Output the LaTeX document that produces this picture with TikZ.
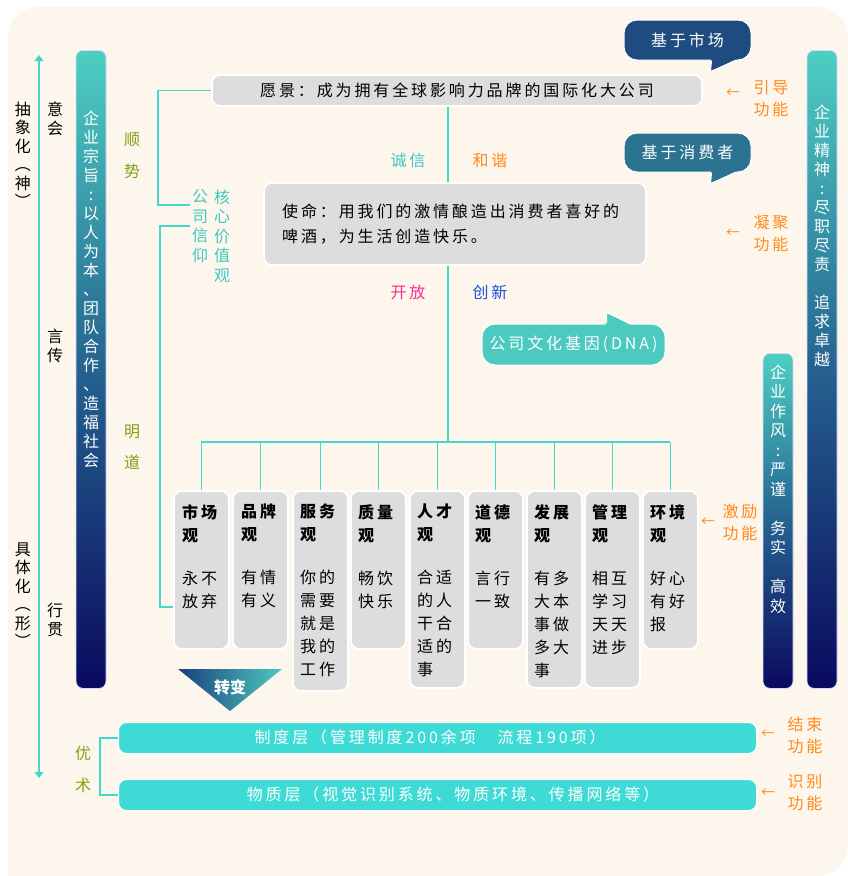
\documentclass[tikz,border=0pt]{standalone}
\usepackage{fontspec}
\setmainfont{Noto Sans CJK SC}
\newfontfamily\hz{Noto Sans CJK SC}[LetterSpace=18]
\usetikzlibrary{calc,arrows.meta}
\definecolor{cream}{HTML}{FDF6ED}
\definecolor{boxgray}{HTML}{DDDDDD}
\definecolor{turq}{HTML}{45D6CE}
\definecolor{turqtxt}{HTML}{40C8C0}
\definecolor{orng}{HTML}{FF8A1E}
\definecolor{olive}{HTML}{7FA214}
\definecolor{mag}{HTML}{FF2A8E}
\definecolor{blu}{HTML}{1D4FE0}
\definecolor{barTop}{HTML}{4DCFC3}
\definecolor{barMid}{HTML}{25628F}
\definecolor{barBot}{HTML}{0A0A5E}
\definecolor{bubA}{HTML}{1E4B80}
\definecolor{bubB}{HTML}{2C7392}
\definecolor{bubC}{HTML}{4CCAC0}
\definecolor{layer}{HTML}{3EDBD6}
\definecolor{triL}{HTML}{1B3F7F}
\tikzset{
  gbox/.style={fill=boxgray, draw=white, line width=1.8pt, rounded corners=8pt, inner sep=0pt},
  valbox/.style={gbox, minimum width=55pt, anchor=north west},
  valtxt/.style={anchor=north west, align=left, inner sep=0pt, text=black, font=\hz\fontsize{16}{23}\selectfont},
  bar/.style={top color=barTop, bottom color=barBot, middle color=barMid, draw=blue!15!white, line width=0.8pt, rounded corners=7pt, minimum width=30pt, inner sep=0pt, anchor=north},
  bartxt/.style={text=white, align=center, inner sep=0pt, font=\fontsize{16}{19}\selectfont},
  vtxt/.style={align=center, inner sep=0pt, font=\fontsize{16}{19}\selectfont},
  htxt/.style={inner sep=0pt, font=\hz\fontsize{16}{22}\selectfont},
  flbl/.style={text=orng, align=left, inner sep=0pt, font=\hz\fontsize{16}{22}\selectfont},
  farrow/.style={text=orng, inner sep=0pt, font=\fontsize{14}{14}\selectfont},
  conn/.style={draw=turq, line width=1.3pt},
  bubble/.style={draw=white, line width=1pt, rounded corners=13pt, text=white, inner sep=0pt, font=\hz\fontsize{16}{20}\selectfont},
  layerbar/.style={fill=layer, draw=white, line width=1pt, rounded corners=8pt, minimum width=638pt, minimum height=31pt, inner sep=0pt},
}
\begin{document}
\begin{tikzpicture}[x=1pt,y=-1pt]
\useasboundingbox (0,0) rectangle (848,876);
\fill[white] (0,0) rectangle (848,876);
\fill[cream] (8,876) [rounded corners=30pt] -- (8,7) -- (848,7) -- (848,876) [sharp corners] -- cycle;

% left axis
\coordinate (axTop) at (39,55);
\coordinate (axBot) at (39,778);
\draw[turq, line width=1.3pt, {Triangle[length=6pt,width=9pt]}-{Triangle[length=6pt,width=9pt]}] (axTop) -- (axBot);
\node[vtxt, font=\fontsize{16}{18.5}\selectfont] (abs) at (23,155) {抽\\象\\化\\︵\\神\\︶};
\node[vtxt, font=\fontsize{16}{18.5}\selectfont] (con) at (23,595) {具\\体\\化\\︵\\形\\︶};
\node[vtxt] (yh) at (55,119) {意\\会};
\node[vtxt] (yc) at (55,346) {言\\传};
\node[vtxt] (xg) at (55,620) {行\\贯};

% bars
\node[bar, minimum height=638pt] (lbar) at (91,50) {};
\node[bartxt] (lbt) at (91,289) {企\\业\\宗\\旨\\:\\以\\人\\为\\本\\、\\团\\队\\合\\作\\、\\造\\福\\社\\会};
\node[bar, minimum height=638pt] (rbar) at (822,50) {};
\node[bartxt] (rbt) at (822,236) {企\\业\\精\\神\\:\\尽\\职\\尽\\责\\　\\追\\求\\卓\\越};
\node[bar, minimum height=335pt] (sbar) at (778,353) {};
\node[bartxt, font=\fontsize{16}{19.5}\selectfont] (sbt) at (778,489) {企\\业\\作\\风\\:\\严\\谨\\　\\务\\实\\　\\高\\效};

% green labels
\node[vtxt, text=olive, font=\fontsize{16}{32}\selectfont] (ss) at (132,156) {顺\\势};
\node[vtxt, text=olive, font=\fontsize{16}{31}\selectfont] (md) at (132,447) {明\\道};
\node[vtxt, text=olive, font=\fontsize{16}{32}\selectfont] (ys) at (83,769) {优\\术};

% core values text
\node[vtxt, text=turqtxt, font=\fontsize{16}{19.5}\selectfont] (gsxy) at (200,226) {公\\司\\信\\仰};
\node[vtxt, text=turqtxt, font=\fontsize{16}{19.5}\selectfont] (hxjz) at (222,236) {核\\心\\价\\值\\观};

% vision and mission
\node[gbox, minimum width=490pt, minimum height=31pt, font=\hz\fontsize{16}{20}\selectfont] (vis) at (457,90.5) {愿景：成为拥有全球影响力品牌的国际化大公司};
\node[gbox, minimum width=382pt, minimum height=82pt] (mis) at (455,224) {};
\node[anchor=north west, align=left, inner sep=0pt, font=\hz\fontsize{16}{25}\selectfont] (mtxt) at (282,204) {使命：用我们的激情酿造出消费者喜好的\\啤酒，为生活创造快乐。};

\coordinate (spine) at (448,0);
\coordinate (bus) at (0,442);
\draw[conn] (vis.south -| spine) -- (mis.north -| spine);

\node[htxt, text=turqtxt] (cx) at (408,160) {诚信};
\node[htxt, text=orng] (hx) at (490,160) {和谐};
\node[htxt, text=mag] (kf) at (408,292) {开放};
\node[htxt, text=blu] (cxn) at (490,292) {创新};

% bubbles
\node[bubble, fill=bubA, minimum width=127pt, minimum height=40pt] (mkt) at (687.5,40) {基于市场};
\fill[bubA] ($(mkt.south)+(24,-3)$) -- ($(mkt.south)+(23,11)$) -- ($(mkt.south)+(52,-3)$) -- cycle;
\draw[white, line width=1pt] ($(mkt.south)+(24,0.3)$) -- ($(mkt.south)+(23,11)$) -- ($(mkt.south)+(48,0.3)$);
\node[bubble, fill=bubB, minimum width=127pt, minimum height=39pt] (csm) at (687.5,152.5) {基于消费者};
\fill[bubB] ($(csm.south)+(24,-3)$) -- ($(csm.south)+(23,11)$) -- ($(csm.south)+(52,-3)$) -- cycle;
\draw[white, line width=1pt] ($(csm.south)+(24,0.3)$) -- ($(csm.south)+(23,11)$) -- ($(csm.south)+(48,0.3)$);
\node[bubble, fill=bubC, minimum width=183pt, minimum height=41pt] (dna) at (573.5,344.5) {公司文化基因(DNA)};
\fill[bubC] ($(dna.north)+(32,3)$) -- ($(dna.north)+(33,-11)$) -- ($(dna.north)+(60,3)$) -- cycle;
\draw[white, line width=1pt] ($(dna.north)+(33,-0.3)$) -- ($(dna.north)+(33,-11)$) -- ($(dna.north)+(56,-0.3)$);

% function labels
\node[farrow] (a1) at (733,93) {←};
\node[flbl] (f1) at (771,99) {引导\\功能};
\node[farrow] (a2) at (733,233) {←};
\node[flbl] (f2) at (771,233) {凝聚\\功能};
\node[farrow] (a3) at (708,522) {←};
\node[flbl] (f3) at (740,522) {激励\\功能};
\node[farrow] (a4) at (768,734) {←};
\node[flbl] (f4) at (805,735) {结束\\功能};
\node[farrow] (a5) at (768,793) {←};
\node[flbl] (f5) at (805,793) {识别\\功能};

% value boxes
\node[valbox, minimum height=158pt] (b1) at (173,490) {};
\node[valbox, minimum height=158pt] (b2) at (232,490) {};
\node[valbox, minimum height=200pt] (b3) at (292,490) {};
\node[valbox, minimum height=158pt] (b4) at (350,490) {};
\node[valbox, minimum height=197pt] (b5) at (409,490) {};
\node[valbox, minimum height=158pt] (b6) at (467,490) {};
\node[valbox, minimum height=197pt] (b7) at (526,490) {};
\node[valbox, minimum height=197pt] (b8) at (584,490) {};
\node[valbox, minimum height=158pt] (b9) at (642,490) {};
\node[valtxt] (t1) at (182,504) {\textbf{市场}\\\textbf{观}\\[20pt]永不\\放弃};
\node[valtxt] (t2) at (241,504) {\textbf{品牌}\\\textbf{观}\\[20pt]有情\\有义};
\node[valtxt] (t3) at (300,504) {\textbf{服务}\\\textbf{观}\\[20pt]你的\\需要\\就是\\我的\\工作};
\node[valtxt] (t4) at (358,504) {\textbf{质量}\\\textbf{观}\\[20pt]畅饮\\快乐};
\node[valtxt] (t5) at (417,504) {\textbf{人才}\\\textbf{观}\\[20pt]合适\\的人\\干合\\适的\\事};
\node[valtxt] (t6) at (475,504) {\textbf{道德}\\\textbf{观}\\[20pt]言行\\一致};
\node[valtxt] (t7) at (534,504) {\textbf{发展}\\\textbf{观}\\[20pt]有多\\大本\\事做\\多大\\事};
\node[valtxt] (t8) at (592,504) {\textbf{管理}\\\textbf{观}\\[20pt]相互\\学习\\天天\\进步};
\node[valtxt] (t9) at (650,504) {\textbf{环境}\\\textbf{观}\\[20pt]好心\\有好\\报};

% tree connectors
\draw[conn] (mis.south -| spine) -- (spine |- bus);
\draw[conn] (b1.north |- bus) -- (b9.north |- bus);
\foreach \b in {b1,b2,b3,b4,b5,b6,b7,b8,b9} {\draw[conn] (\b.north |- bus) -- (\b.north);}

% brackets
\coordinate (br1) at (190,205);
\coordinate (br2) at (190,226);
\coordinate (br3) at (173,607);
\draw[conn] (vis.west) -- (158,90.5) |- (br1);
\draw[conn] (br2) -- (160,226) |- (br3);

% transformation triangle
\shade[left color=triL, right color=bubC] (178,669) -- (282,669) -- (230,711) -- cycle;
\node[text=white, inner sep=0pt, font=\bfseries\fontsize{16}{16}\selectfont] (zb) at (230,687) {转变};

% layers
\node[layerbar, anchor=north west] (l1) at (118,722) {};
\node[text=white, inner sep=0pt, font=\hz\fontsize{16}{20}\selectfont] (l1t) at (430,737.5) {制度层（管理制度200余项　流程190项）};
\node[layerbar, anchor=north west] (l2) at (118,779) {};
\node[text=white, inner sep=0pt, font=\hz\fontsize{16}{20}\selectfont] (l2t) at (453,794.5) {物质层（视觉识别系统、物质环境、传播网络等）};
\draw[conn] (l1.west) -- ++(-18,0) |- (l2.west);
\end{tikzpicture}
\end{document}
